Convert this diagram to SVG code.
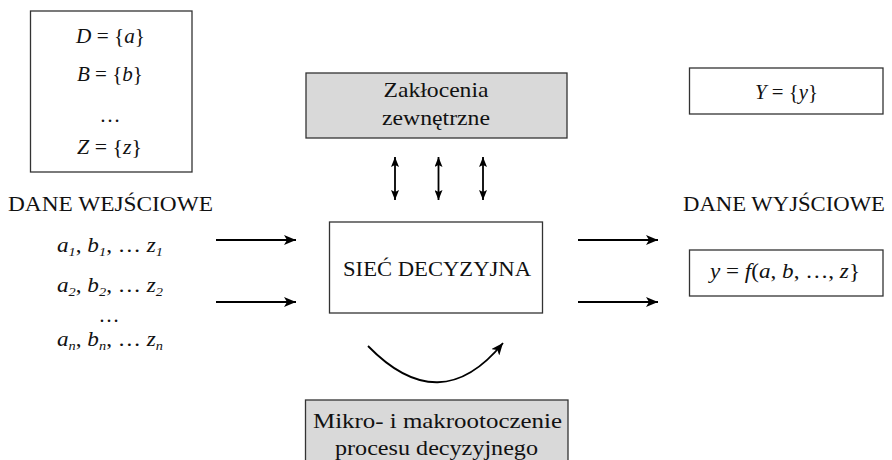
<svg xmlns="http://www.w3.org/2000/svg" width="892" height="460" viewBox="0 0 892 460">
<defs>
<style>
text{font-family:"Liberation Serif","Times New Roman",serif;fill:#111;font-size:21px}
.m{text-anchor:middle}
.i{font-style:italic}
.box{fill:#fff;stroke:#333;stroke-width:1.3}
.grey{fill:#d9d9d9;stroke:#333;stroke-width:1.3}
.con{stroke:#000;stroke-width:1.8;fill:none}
.sub{font-size:13px;font-style:italic}
</style>
<marker id="ah" viewBox="0 0 12 10" refX="12" refY="5" markerWidth="12" markerHeight="10" markerUnits="userSpaceOnUse" orient="auto-start-reverse">
<path d="M0,0 L12,5 L0,10 L3,5 Z" fill="#000"/>
</marker>
<marker id="ahs" viewBox="0 0 10 8" refX="10" refY="4" markerWidth="10" markerHeight="8" markerUnits="userSpaceOnUse" orient="auto-start-reverse">
<path d="M0,0 L10,4 L0,8 L2,4 Z" fill="#000"/>
</marker>
</defs>

<g id="sets">
<rect class="box" x="30.5" y="11" width="161.5" height="161"/>
<text x="110.5" y="43" class="m" textLength="69" lengthAdjust="spacingAndGlyphs"><tspan class="i">D</tspan> = {<tspan class="i">a</tspan>}</text>
<text x="110" y="81" class="m" textLength="66" lengthAdjust="spacingAndGlyphs"><tspan class="i">B</tspan> = {<tspan class="i">b</tspan>}</text>
<text x="110" y="122" class="m">…</text>
<text x="109.5" y="154" class="m" textLength="65" lengthAdjust="spacingAndGlyphs"><tspan class="i">Z</tspan> = {<tspan class="i">z</tspan>}</text>
</g>

<g id="input">
<text x="8" y="211" textLength="205" lengthAdjust="spacingAndGlyphs">DANE WEJŚCIOWE</text>
<text x="57" y="252" textLength="106" lengthAdjust="spacingAndGlyphs"><tspan class="i">a</tspan><tspan class="sub" dy="4">1</tspan><tspan dy="-4">, </tspan><tspan class="i">b</tspan><tspan class="sub" dy="4">1</tspan><tspan dy="-4">, … </tspan><tspan class="i">z</tspan><tspan class="sub" dy="4">1</tspan></text>
<text x="57" y="292" textLength="106" lengthAdjust="spacingAndGlyphs"><tspan class="i">a</tspan><tspan class="sub" dy="4">2</tspan><tspan dy="-4">, </tspan><tspan class="i">b</tspan><tspan class="sub" dy="4">2</tspan><tspan dy="-4">, … </tspan><tspan class="i">z</tspan><tspan class="sub" dy="4">2</tspan></text>
<text x="109" y="322" class="m">…</text>
<text x="57" y="346" textLength="106" lengthAdjust="spacingAndGlyphs"><tspan class="i">a</tspan><tspan class="sub" dy="4">n</tspan><tspan dy="-4">, </tspan><tspan class="i">b</tspan><tspan class="sub" dy="4">n</tspan><tspan dy="-4">, … </tspan><tspan class="i">z</tspan><tspan class="sub" dy="4">n</tspan></text>
</g>

<g id="disturbances">
<rect class="grey" x="306" y="73" width="261" height="65"/>
<text x="436" y="97" class="m" textLength="105" lengthAdjust="spacingAndGlyphs">Zakłocenia</text>
<text x="436" y="125" class="m" textLength="108" lengthAdjust="spacingAndGlyphs">zewnętrzne</text>
</g>

<g id="network">
<rect class="box" x="329.5" y="222" width="213" height="91"/>
<text x="437" y="276" class="m" textLength="188" lengthAdjust="spacingAndGlyphs">SIEĆ DECYZYJNA</text>
</g>

<g id="environment">
<rect class="grey" x="305.5" y="400" width="262.5" height="70"/>
<text x="437.5" y="428" class="m" textLength="249" lengthAdjust="spacingAndGlyphs">Mikro- i makrootoczenie</text>
<text x="436.5" y="455" class="m" textLength="203" lengthAdjust="spacingAndGlyphs">procesu decyzyjnego</text>
</g>

<g id="outset">
<rect class="box" x="689.5" y="68" width="193.5" height="46"/>
<text x="786.5" y="99" class="m" textLength="63" lengthAdjust="spacingAndGlyphs"><tspan class="i">Y</tspan> = {<tspan class="i">y</tspan>}</text>
</g>

<g id="output">
<text x="683" y="211" textLength="202" lengthAdjust="spacingAndGlyphs">DANE WYJŚCIOWE</text>
<rect class="box" x="689.5" y="250" width="193.5" height="46"/>
<text x="785" y="278" class="m" textLength="150" lengthAdjust="spacingAndGlyphs"><tspan class="i">y</tspan> = <tspan class="i">f</tspan>(<tspan class="i">a</tspan>, <tspan class="i">b</tspan>, …, <tspan class="i">z</tspan>}</text>
</g>

<g id="connectors">
<line class="con" x1="216" y1="240" x2="296" y2="240" marker-end="url(#ah)"/>
<line class="con" x1="216" y1="302" x2="296" y2="302" marker-end="url(#ah)"/>
<line class="con" x1="578" y1="240" x2="658" y2="240" marker-end="url(#ah)"/>
<line class="con" x1="578" y1="302" x2="658" y2="302" marker-end="url(#ah)"/>
<line class="con" x1="395" y1="157" x2="395" y2="200" marker-start="url(#ahs)" marker-end="url(#ahs)"/>
<line class="con" x1="438.5" y1="157" x2="438.5" y2="200" marker-start="url(#ahs)" marker-end="url(#ahs)"/>
<line class="con" x1="483" y1="157" x2="483" y2="200" marker-start="url(#ahs)" marker-end="url(#ahs)"/>
<path class="con" d="M368,346 Q440,420 503,343" stroke-width="1.5" marker-end="url(#ah)"/>
</g>
</svg>
